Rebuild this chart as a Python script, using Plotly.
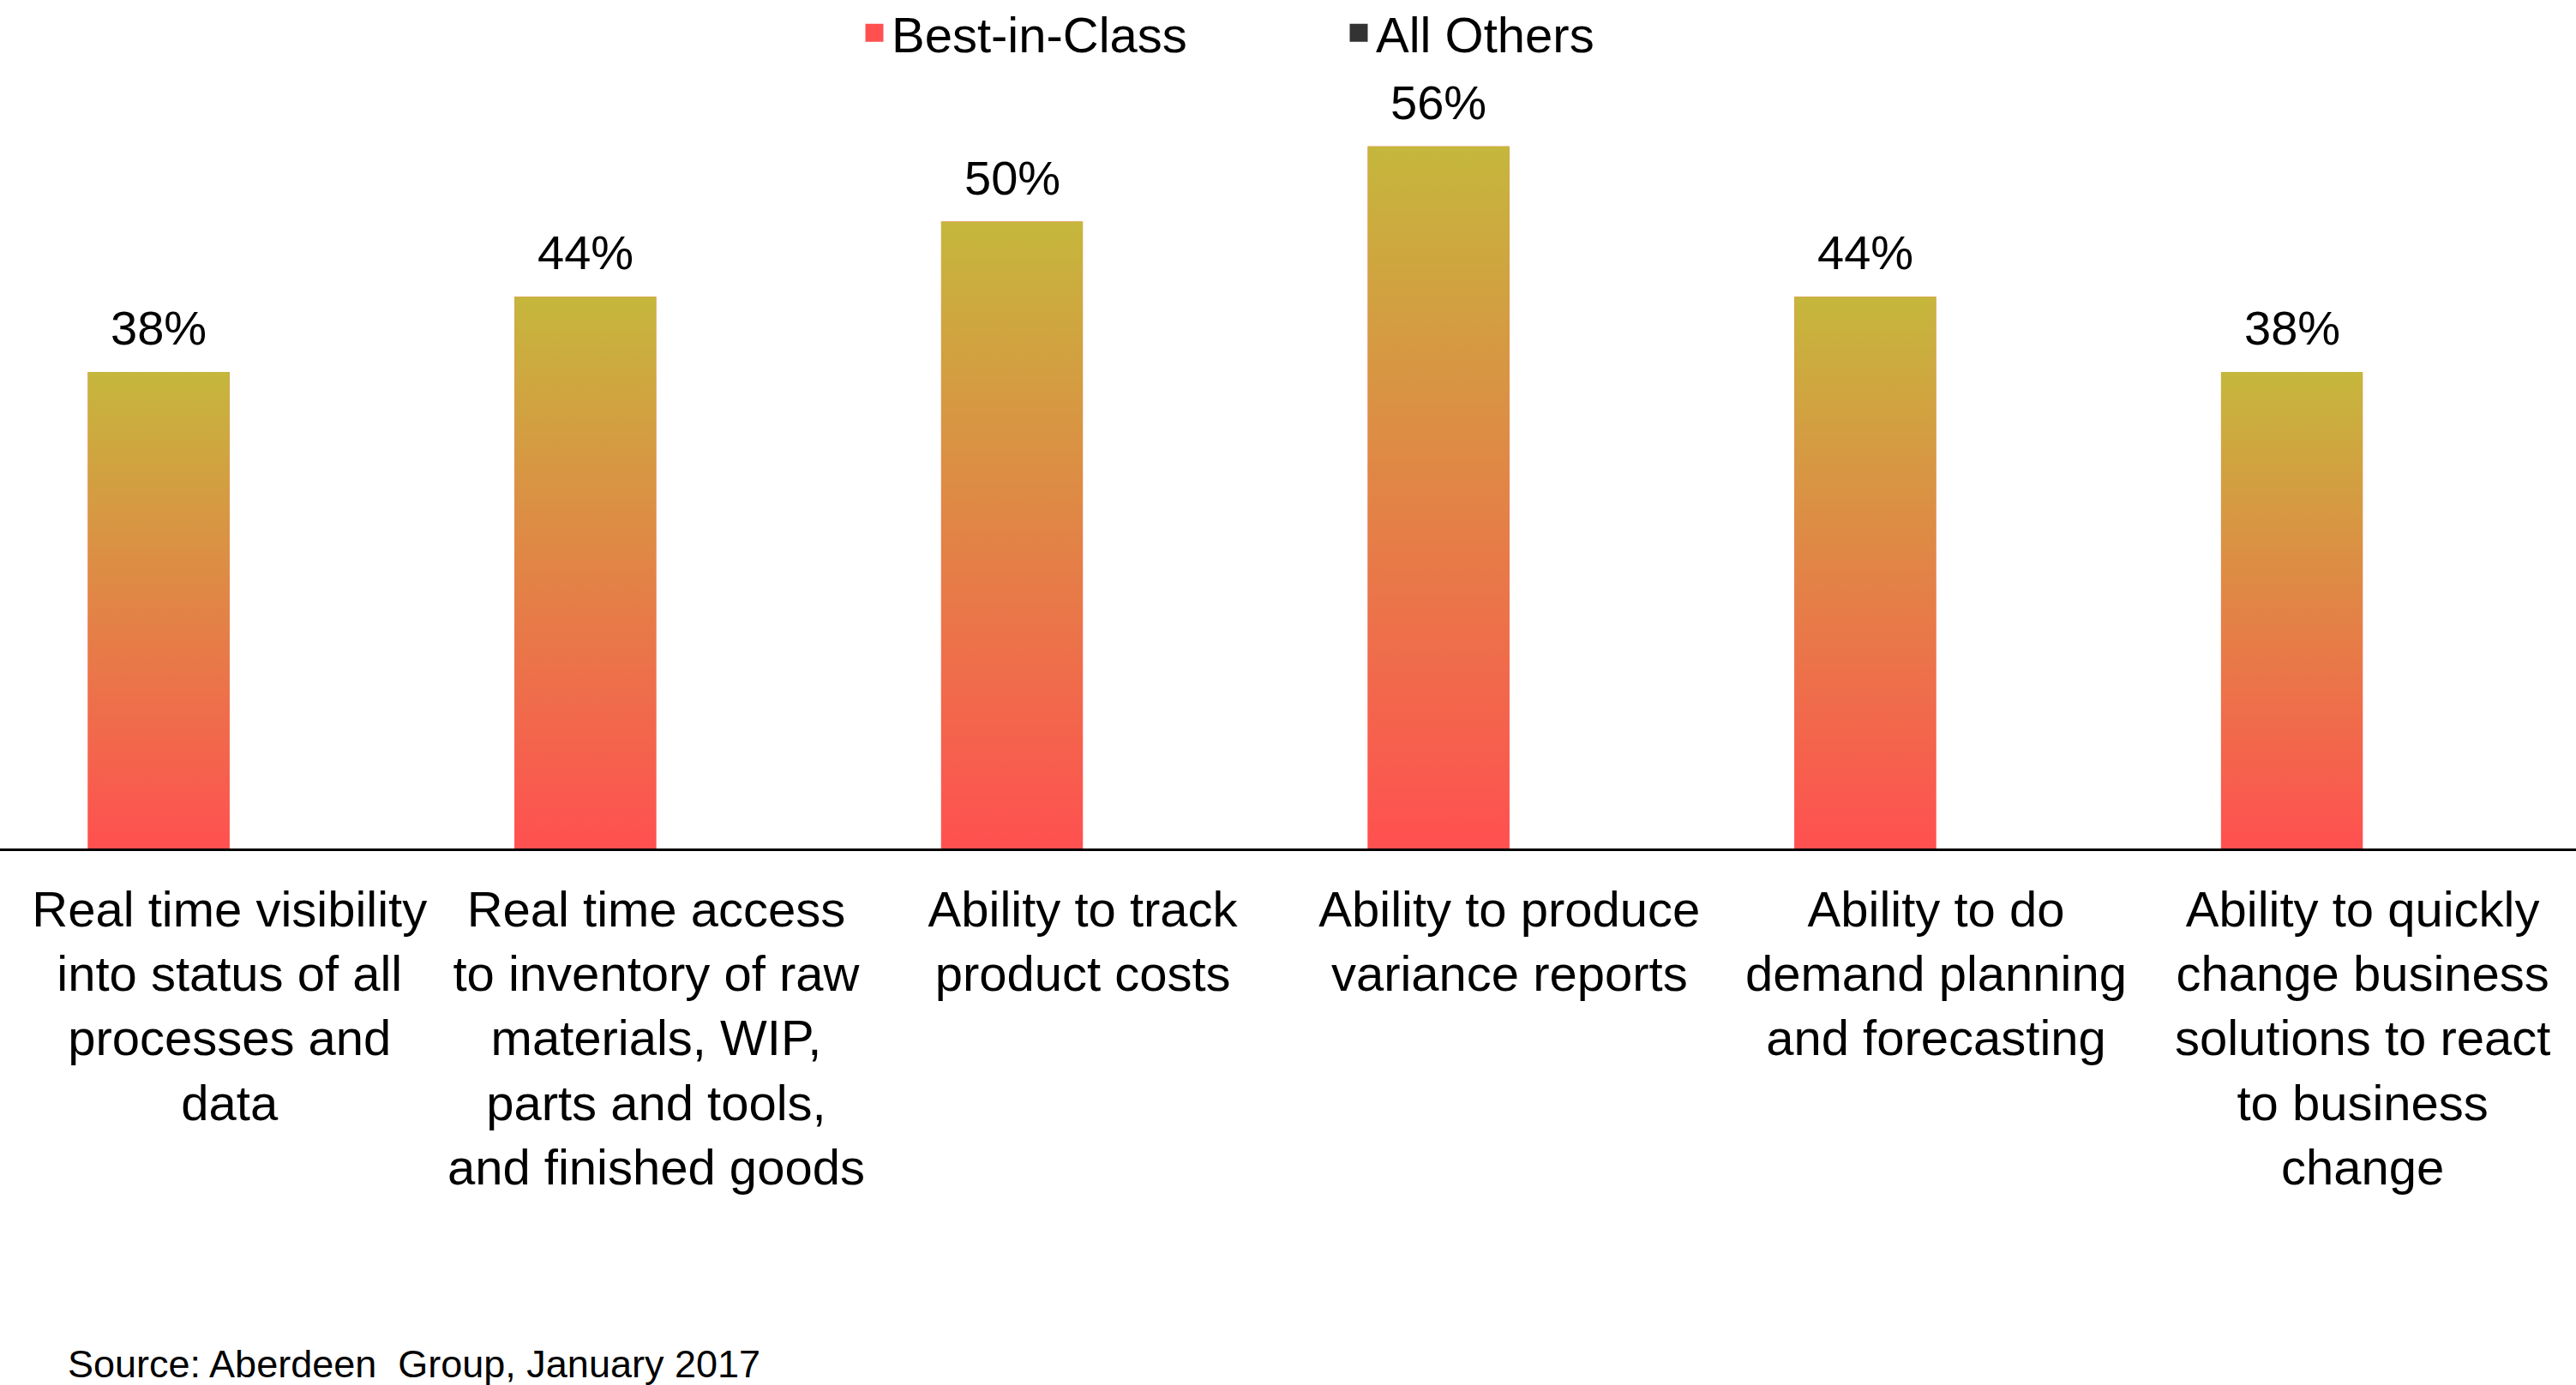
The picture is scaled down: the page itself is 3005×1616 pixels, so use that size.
import plotly.graph_objects as go

# categories and values
categories = [
    "Real time visibility<br>into status of all<br>processes and<br>data",
    "Real time access<br>to inventory of raw<br>materials, WIP,<br>parts and tools,<br>and finished goods",
    "Ability to track<br>product costs",
    "Ability to produce<br>variance reports",
    "Ability to do<br>demand planning<br>and forecasting",
    "Ability to quickly<br>change business<br>solutions to react<br>to business<br>change",
]
best_in_class = [38, 44, 50, 56, 44, 38]
all_others = [None, None, None, None, None, None]
series_names = ["Best-in-Class", "All Others"]
source_text = "Source: Aberdeen\u00a0 Group, January 2017"

RED = "#FF5050"
OLIVE = "#C5B73C"
DARK = "#333333"
FONT = "Liberation Sans, Arial, sans-serif"
BAR_W = 0.332
PLOT_H = 930  # 1616 - top 60 - bottom 626

x_pos = list(range(len(categories)))

fig = go.Figure()

fig.add_trace(go.Bar(
    x=x_pos, y=best_in_class, name=series_names[0], legendgroup="bic",
    width=BAR_W, offset=-BAR_W, showlegend=False,
    marker=dict(color=RED, line=dict(width=0)),
))
fig.add_trace(go.Bar(
    x=x_pos, y=all_others, name=series_names[1], legendgroup="ao",
    width=BAR_W, offset=0, showlegend=False,
    marker=dict(color=DARK, line=dict(width=0)),
))

# vertical gradient on each Best-in-Class bar (red bottom -> olive top)
for k, v in zip(x_pos, best_in_class):
    x0, x1 = k - BAR_W, k
    fig.add_trace(go.Scatter(
        x=[x0, x0, x1, x1, x0], y=[0, v, v, 0, 0],
        mode="lines", fill="toself",
        line=dict(width=0, color="rgba(0,0,0,0)"),
        fillgradient=dict(type="vertical", colorscale=[[0, RED], [1, OLIVE]]),
        showlegend=False, hoverinfo="skip",
    ))
    fig.add_annotation(
        x=k - BAR_W / 2, y=v, text=f"{v}%", showarrow=False,
        yanchor="bottom", yshift=18,
        font=dict(family=FONT, size=56, color="#000000"),
    )

# legend entries with square swatches
for name, col, grp in [(series_names[0], RED, "bic"), (series_names[1], DARK, "ao")]:
    fig.add_trace(go.Scatter(
        x=[None], y=[None], mode="markers", name=name, legendgroup=grp,
        marker=dict(symbol="square", size=16, color=col, line=dict(width=5, color=col)),
    ))

fig.add_annotation(
    xref="paper", yref="paper", x=77 / 3005, y=(990 - 1591) / PLOT_H,
    xanchor="left", yanchor="middle", text=source_text, showarrow=False,
    font=dict(family=FONT, size=45, color="#000000"),
)

fig.update_layout(
    width=3005, height=1616,
    margin=dict(l=0, r=0, t=60, b=626, autoexpand=False),
    paper_bgcolor="white", plot_bgcolor="white",
    font=dict(family=FONT, size=58, color="#000000"),
    showlegend=True,
    legend=dict(
        orientation="h", x=1000 / 3005, xanchor="left",
        y=1 + 66 / PLOT_H, yanchor="top", itemsizing="trace",
        font=dict(family=FONT, size=58, color="#000000"),
        entrywidth=520, entrywidthmode="pixels",
        bgcolor="rgba(0,0,0,0)",
    ),
    xaxis=dict(
        range=[-0.538, 5.5], tickmode="array", tickvals=x_pos, ticktext=categories,
        showline=True, linecolor="#000000", linewidth=3,
        showgrid=False, zeroline=False, ticks="", ticklabelstandoff=18,
        tickfont=dict(family=FONT, size=58, color="#000000"),
        automargin=False, fixedrange=True,
    ),
    yaxis=dict(range=[0, 63.57], visible=False, fixedrange=True),
)

fig.write_html("out.html", config={"displayModeBar": False},
               post_script="document.body.style.margin='0';")
